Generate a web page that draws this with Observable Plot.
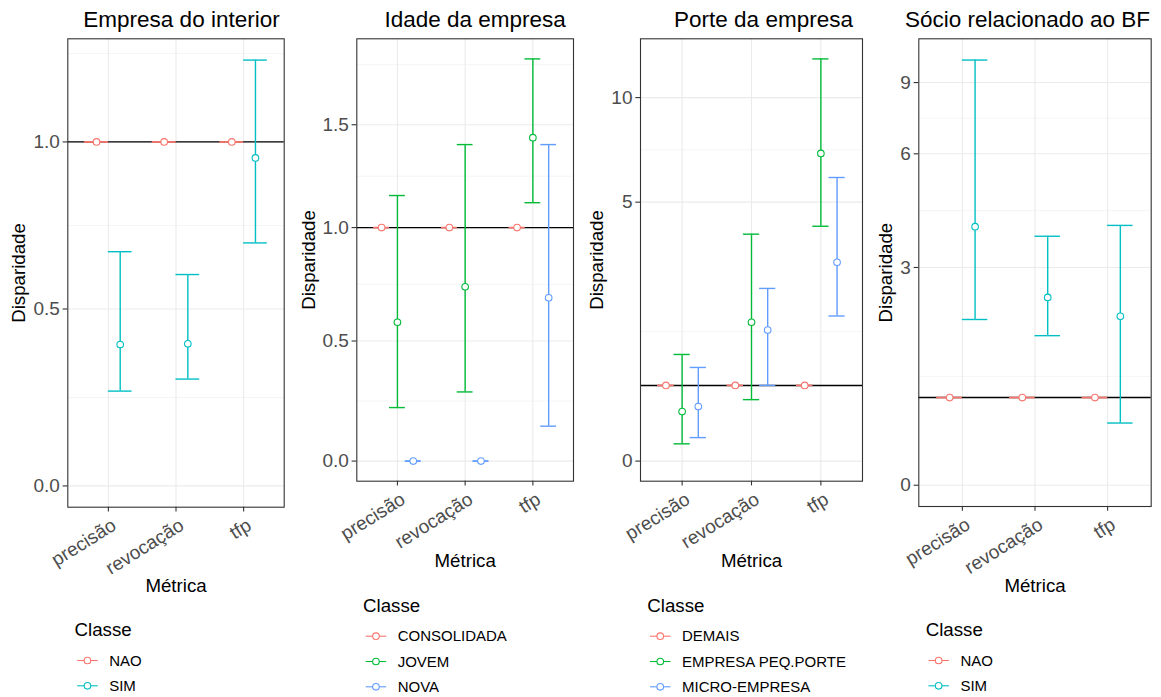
<!DOCTYPE html>
<html>
<head>
<meta charset="utf-8">
<script src="https://cdn.jsdelivr.net/npm/d3@7"></script>
<script src="https://cdn.jsdelivr.net/npm/@observablehq/plot@0.6"></script>
<style>
  html, body { margin: 0; padding: 0; background: #fff; }
  #root { position: relative; width: 1161px; height: 697px; overflow: hidden; background: #fff;
          font-family: "Liberation Sans", Arial, sans-serif; }
  #root > svg { position: absolute; }
</style>
</head>
<body>
<div id="root"></div>
<script>
// ---------- data ----------
const metrics = ["precisão", "revocação", "tfp"];
const referenceLine = [1];
const yLabel = "Disparidade";
const xLabel = "Métrica";
const legendTitle = "Classe";
const palette2 = ["#F8766D", "#00BFC4"];
const palette3 = ["#F8766D", "#00BA38", "#619CFF"];

// Panel 1
const interiorTitle = "Empresa do interior";
const interiorClasses = ["NAO", "SIM"];
const interiorValue = [[1, 1, 1], [0.398, 0.400, 0.950]];
const interiorLower = [[1, 1, 1], [0.266, 0.300, 0.693]];
const interiorUpper = [[1, 1, 1], [0.667, 0.600, 1.263]];
const interiorTicks = [0, 0.5, 1.0];
const interiorTickLabels = ["0.0", "0.5", "1.0"];

// Panel 2
const idadeTitle = "Idade da empresa";
const idadeClasses = ["CONSOLIDADA", "JOVEM", "NOVA"];
const idadeValue = [[1, 1, 1], [0.580, 0.734, 1.434], [0, 0, 0.686]];
const idadeLower = [[1, 1, 1], [0.221, 0.286, 1.116], [0, 0, 0.144]];
const idadeUpper = [[1, 1, 1], [1.150, 1.399, 1.854], [0, 0, 1.399]];
const idadeTicks = [0, 0.5, 1.0, 1.5];
const idadeTickLabels = ["0.0", "0.5", "1.0", "1.5"];

// Panel 3
const porteTitle = "Porte da empresa";
const porteClasses = ["DEMAIS", "EMPRESA PEQ.PORTE", "MICRO-EMPRESA"];
const porteValue = [[1, 1, 1], [0.640, 2.005, 6.94], [0.707, 1.866, 3.26]];
const porteLower = [[1, 1, 1], [0.220, 0.802, 4.23], [0.300, 1.0, 2.12]];
const porteUpper = [[1, 1, 1], [1.463, 4.0, 12.84], [1.263, 2.666, 5.91]];
const porteTicks = [0, 5, 10];
const porteTickLabels = ["0", "5", "10"];

// Panel 4
const socioTitle = "Sócio relacionado ao BF";
const socioClasses = ["NAO", "SIM"];
const socioValue = [[1, 1, 1], [3.89, 2.446, 2.13]];
const socioLower = [[1, 1, 1], [2.08, 1.832, 0.696]];
const socioUpper = [[1, 1, 1], [10.21, 3.665, 3.92]];
const socioTicks = [0, 3, 6, 9];
const socioTickLabels = ["0", "3", "6", "9"];

// ---------- layout (page pixel positions) ----------
const panels = [
  {title: interiorTitle, classes: interiorClasses, palette: palette2, value: interiorValue, lower: interiorLower, upper: interiorUpper, ticks: interiorTicks, tickLabels: interiorTickLabels,
   lay: {left: 0, width: 290, height: 605, frame: [67.3, 283.7, 38.3, 506.7], titleX: 181, yLabX: 24, xLabY: 591, legX: 74.5, legY: 636}},
  {title: idadeTitle, classes: idadeClasses, palette: palette3, value: idadeValue, lower: idadeLower, upper: idadeUpper, ticks: idadeTicks, tickLabels: idadeTickLabels,
   lay: {left: 290, width: 290, height: 580, frame: [356.3, 573, 38.3, 480.7], titleX: 474.7, yLabX: 314, xLabY: 566, legX: 363, legY: 611.7}},
  {title: porteTitle, classes: porteClasses, palette: palette3, value: porteValue, lower: porteLower, upper: porteUpper, ticks: porteTicks, tickLabels: porteTickLabels,
   lay: {left: 580, width: 290, height: 580, frame: [640, 862, 38.3, 480.7], titleX: 763, yLabX: 602.3, xLabY: 566, legX: 647.3, legY: 611.7}},
  {title: socioTitle, classes: socioClasses, palette: palette2, value: socioValue, lower: socioLower, upper: socioUpper, ticks: socioTicks, tickLabels: socioTickLabels,
   lay: {left: 870, width: 291, height: 605, frame: [918.3, 1150.7, 38.3, 506], titleX: 1027, yLabX: 891.3, xLabY: 591, legX: 925.7, legY: 636}}
];

// pseudo-log transform (asinh(x/2)) as in the reference y scales
const tr = v => Math.asinh(v / 2);
const root = document.getElementById("root");

for (const p of panels) {
  const lay = p.lay;
  const n = p.classes.length;
  const w = 0.7 / n;
  const half = w / 2;
  const rows = [];
  p.classes.forEach((c, g) => metrics.forEach((m, i) => rows.push({
    cls: c, metric: m, xc: i + 1 + (g - (n - 1) / 2) * w,
    v: p.value[g][i], lo: p.lower[g][i], hi: p.upper[g][i]
  })));
  const tLo = tr(Math.min(0, ...rows.map(d => d.lo)));
  const tHi = tr(Math.max(...rows.map(d => d.hi)));
  const span = tHi - tLo;
  const dom = [tLo - 0.05 * span, tHi + 0.05 * span];
  const major = p.ticks.map(tr);
  const bd = major[1] - major[0];
  const ext = [major[0] - bd, ...major, major[major.length - 1] + bd];
  const minor = d3.pairs(ext).map(([a, b]) => (a + b) / 2).filter(t => t > dom[0] && t < dom[1]);
  const labelOf = new Map(major.map((t, k) => [t, p.tickLabels[k]]));
  const [fl, fr, ft, fb] = lay.frame;

  const chart = Plot.plot({
    width: lay.width,
    height: lay.height,
    marginLeft: fl - lay.left,
    marginRight: lay.left + lay.width - fr,
    marginTop: ft,
    marginBottom: lay.height - fb,
    x: {type: "linear", domain: [0.4, 3.6], axis: null},
    y: {type: "linear", domain: dom, axis: null},
    color: {domain: p.classes, range: p.palette},
    style: {fontFamily: "Liberation Sans, Arial, sans-serif", fontSize: "18px", background: "white", color: "#333333", overflow: "visible"},
    marks: [
      Plot.gridY(minor, {stroke: "#EBEBEB", strokeOpacity: 1, strokeWidth: 0.55}),
      Plot.gridY(major, {stroke: "#EBEBEB", strokeOpacity: 1, strokeWidth: 1.1}),
      Plot.gridX([1, 2, 3], {stroke: "#EBEBEB", strokeOpacity: 1, strokeWidth: 1.1}),
      Plot.ruleY(referenceLine, {y: d => tr(d), stroke: "black", strokeWidth: 1.4}),
      Plot.ruleX(rows, {x: "xc", y1: d => tr(d.lo), y2: d => tr(d.hi), stroke: "cls", strokeWidth: 1.4}),
      Plot.ruleY(rows, {y: d => tr(d.lo), x1: d => d.xc - half, x2: d => d.xc + half, stroke: "cls", strokeWidth: 1.4}),
      Plot.ruleY(rows, {y: d => tr(d.hi), x1: d => d.xc - half, x2: d => d.xc + half, stroke: "cls", strokeWidth: 1.4}),
      Plot.dot(rows, {x: "xc", y: d => tr(d.v), r: 3.3, fill: "white", stroke: "cls", strokeWidth: 1.1}),
      Plot.frame({stroke: "#333333", strokeWidth: 1.1}),
      Plot.axisY(major, {tickSize: 4.7, tickPadding: 3.3, tickFormat: t => labelOf.get(t), fontSize: 19, stroke: "#333333", fill: "#4D4D4D", strokeWidth: 1.1, label: null}),
      Plot.axisX([1, 2, 3], {tickSize: 4.7, tickFormat: () => "", stroke: "#333333", strokeWidth: 1.1, label: null}),
      Plot.text(metrics, {x: (d, i) => i + 1, text: d => d, frameAnchor: "bottom", dx: 2, dy: 10, rotate: -32,
        textAnchor: "end", lineAnchor: "top", fontSize: 19, fill: "#4D4D4D"}),
      Plot.text([p.title], {text: d => d, frameAnchor: "top-left", dx: lay.titleX - fl, dy: 26 - ft,
        textAnchor: "middle", lineAnchor: "bottom", fontSize: 22.5, fill: "black"}),
      Plot.text([yLabel], {text: d => d, frameAnchor: "left", dx: lay.yLabX - fl, rotate: -90,
        textAnchor: "middle", lineAnchor: "bottom", fontSize: 18.7, fill: "black"}),
      Plot.text([xLabel], {text: d => d, frameAnchor: "bottom", dy: lay.xLabY - fb,
        textAnchor: "middle", lineAnchor: "bottom", fontSize: 18.7, fill: "black"})
    ]
  });
  chart.style.left = lay.left + "px";
  chart.style.top = "0px";
  root.appendChild(chart);

  // legend below the plot
  const legTop = lay.height;
  const leg = d3.create("svg")
    .attr("width", lay.width)
    .attr("height", 697 - legTop)
    .style("left", lay.left + "px")
    .style("top", legTop + "px")
    .style("font-family", "Liberation Sans, Arial, sans-serif");
  const lx = lay.legX - lay.left;
  leg.append("text").attr("x", lx).attr("y", lay.legY - legTop)
    .attr("font-size", 18.7).attr("fill", "black").text(legendTitle);
  p.classes.forEach((c, k) => {
    const cy = lay.legY - legTop + 24.5 + k * 25.3;
    const k0 = lx + 2.7;
    const g = leg.append("g");
    g.append("line").attr("x1", k0).attr("x2", k0 + 20.5).attr("y1", cy).attr("y2", cy)
      .attr("stroke", p.palette[k]).attr("stroke-width", 1.1);
    g.append("circle").attr("cx", k0 + 10.25).attr("cy", cy).attr("r", 3.3)
      .attr("fill", "white").attr("stroke", p.palette[k]).attr("stroke-width", 1.1);
    g.append("text").attr("x", k0 + 32).attr("y", cy).attr("dy", "0.35em")
      .attr("font-size", 15).attr("fill", "black").text(c);
  });
  root.appendChild(leg.node());
}
</script>
</body>
</html>
